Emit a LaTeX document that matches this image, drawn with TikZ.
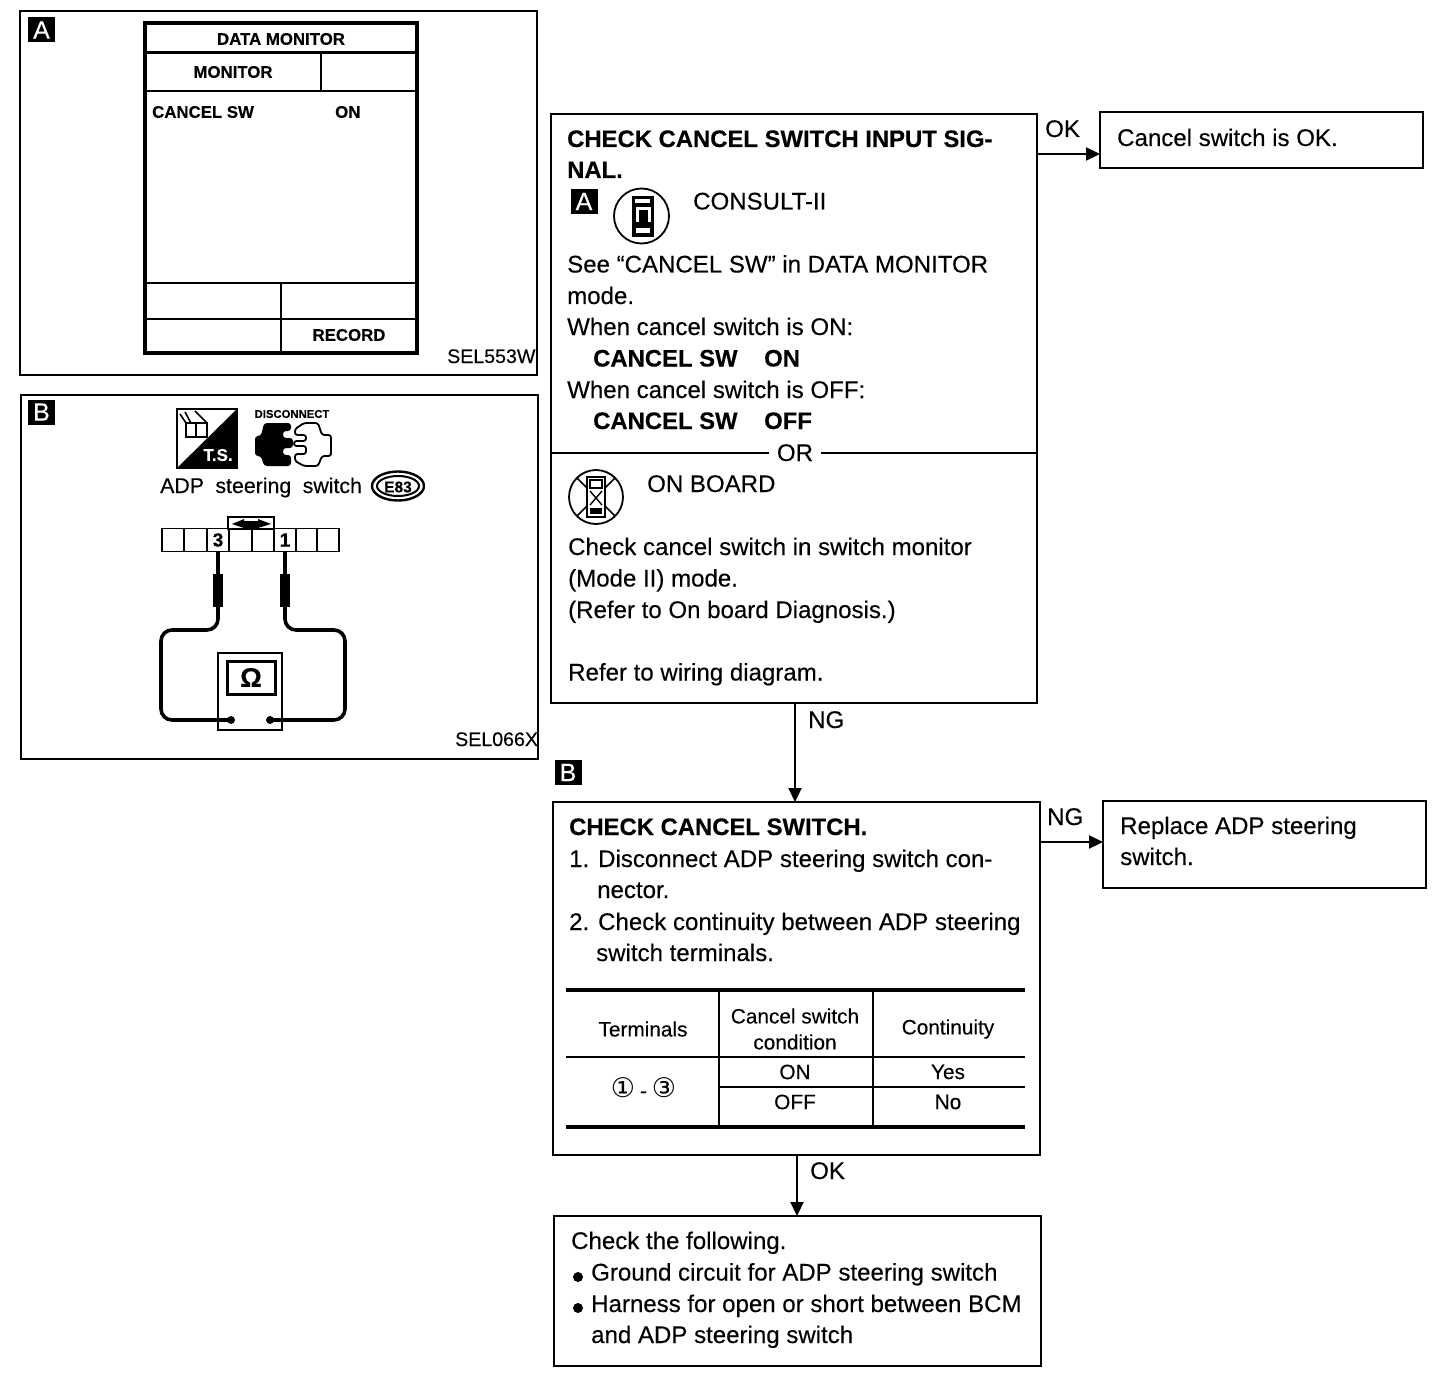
\documentclass[tikz,border=0pt]{standalone}
\usepackage{fontspec}
\setmainfont{Liberation Sans}[UprightFeatures={FakeBold=0.25},BoldFeatures={FakeBold=0.3}]
\newfontfamily\symfont{DejaVu Sans}
\usetikzlibrary{arrows.meta,calc}
\tikzset{
  boxn/.style={draw=black,line width=2.4pt,anchor=north west,inner sep=0pt,outer sep=0pt,rectangle},
  tx/.style={anchor=base west,inner sep=0pt,text=black,font=\fontsize{24.05}{28}\selectfont},
  bf/.style={tx,font=\fontsize{23.85}{28}\selectfont\bfseries},
  cen/.style={anchor=center,inner sep=0pt,text=black,font=\fontsize{20.8}{24}\selectfont},
  scr/.style={anchor=center,inner sep=0pt,text=black,font=\fontsize{16.8}{20}\selectfont\bfseries},
  code/.style={anchor=base west,inner sep=0pt,text=black,font=\fontsize{19.6}{22}\selectfont},
  tag/.style={fill=black,text=white,inner sep=0pt,outer sep=0pt,anchor=center,minimum width=27pt,minimum height=25pt,font=\fontsize{25}{28}\selectfont},
  arr/.style={line width=2.2pt,-{Triangle[length=14pt,width=13pt]}},
  thin line/.style={line width=2.2pt},
  thick line/.style={line width=4.4pt},
  wire/.style={line width=3.6pt,rounded corners=11pt},
}
\begin{document}
\begin{tikzpicture}[x=1pt,y=-1pt]
\useasboundingbox (0,0) rectangle (1456,1388);
% ---------- panel A
\node[boxn,minimum width=517pt,minimum height=364pt] (panelA) at (20,11) {};
\node[tag] (tagA) at (41.5,30) {A};
\node[boxn,line width=3.4pt,minimum width=272pt,minimum height=330pt] (screen) at (145,23) {};
\draw[line width=3pt] (145,53) -- (417,53);
\draw[thin line] (145,91) -- (417,91);
\draw[thin line] (321,53) -- (321,91);
\draw[line width=2.4pt] (145,283) -- (417,283);
\draw[line width=2.4pt] (145,319) -- (417,319);
\draw[line width=2.4pt] (281,283) -- (281,353);
\node[scr] (dm) at (281,39) {DATA MONITOR};
\node[scr] (mon) at (233,72) {MONITOR};
\node[scr,anchor=west] (csw) at (152,112) {CANCEL SW};
\node[scr,anchor=west] (con) at (335,112) {ON};
\node[scr] (rec) at (349,335) {RECORD};
\node[code] (selA) at (447,363) {SEL553W};
% ---------- panel B
\node[boxn,minimum width=517pt,minimum height=364pt] (panelB) at (21,395) {};
\node[tag] (tagB) at (41.5,412) {B};
% T.S. icon
\draw[fill=white,line width=2pt] (177,409) rectangle (237,468);
\fill[black] (237,409) -- (237,468) -- (177,468) -- cycle;
\node[anchor=center,inner sep=0pt,text=white,font=\fontsize{17}{18}\selectfont\bfseries] (ts) at (218,455) {T.S.};
\draw[line width=1.6pt] (186,423) rectangle (207,437);
\draw[line width=1.6pt] (196,423) -- (196,437);
\draw[line width=1.6pt] (186,423) -- (180,414);
\draw[line width=1.6pt] (191,423) -- (185,412);
\draw[line width=1.6pt] (207,423) -- (195,411);
% disconnect icon
\node[anchor=center,inner sep=0pt,text=black,font=\fontsize{11.3}{12}\selectfont\bfseries] (disc) at (292,414) {DISCONNECT};
\fill[black,rounded corners=3pt] (264,423) -- (291,423) -- (291,431) -- (283,431) -- (283,438) -- (293,438) -- (293,448) -- (283,448) -- (283,455) -- (291,455) -- (291,466) -- (264,466) -- (261,456) -- (255,456) -- (255,436) -- (261,436) -- cycle;
\draw[line width=1.8pt,rounded corners=2.5pt,fill=white] (295,429) -- (304,423) -- (318,423) -- (322,435) -- (331,435) -- (331,456) -- (322,456) -- (318,466) -- (304,466) -- (295,461) -- (295,454) -- (306,454) -- (306,446) -- (294,446) -- (294,441) -- (306,441) -- (306,435) -- (295,435) -- cycle;
\node[tx,font=\fontsize{21.3}{24}\selectfont] (adp) at (160,493) {\spaceskip=11.5pt ADP steering switch};
\draw[line width=2.4pt] (398,486) ellipse [x radius=26,y radius=14.5];
\draw[line width=2pt] (398,486) ellipse [x radius=21,y radius=10];
\node[anchor=center,inner sep=0pt,font=\fontsize{15.5}{16}\selectfont\bfseries] (e83) at (398,487) {E83};
% connector
\draw[thin line,fill=white] (228,517) rectangle (274,529);
\fill[black] (232,524) -- (244,519) -- (244,521) -- (258,521) -- (258,519) -- (271,524) -- (258,528) -- (244,528) -- cycle;
\node[draw=black,line width=1.8pt,inner sep=0pt,outer sep=0pt,anchor=north west,minimum width=177pt,minimum height=23pt] (conn) at (162,528.5) {};
\foreach \xx in {184,207,229,252,274,296,317}{\draw[line width=1.4pt] (\xx,528.5) -- (\xx,551.5);}
\node[anchor=center,inner sep=0pt,font=\fontsize{19}{20}\selectfont\bfseries] (t3) at (218,540) {3};
\node[anchor=center,inner sep=0pt,font=\fontsize{19}{20}\selectfont\bfseries] (t1) at (285,540) {1};
% meter
\node[boxn,line width=2.6pt,minimum width=64pt,minimum height=77pt] (meter) at (218,653) {};
\node[draw=black,line width=3pt,anchor=north west,inner sep=0pt,outer sep=0pt,minimum width=48pt,minimum height=33pt,font=\fontsize{27}{28}\selectfont\bfseries] (disp) at (227,661) {Ω};
\coordinate (pl) at (231,720);
\coordinate (pr) at (270,720);
\fill (pl) circle (4pt);
\fill (pr) circle (4pt);
\draw[line width=3.4pt] (218,551) -- (218,574);
\draw[line width=3.4pt] (285,551) -- (285,574);
\draw[line width=10pt] (218,574) -- (218,607);
\draw[line width=10pt] (285,574) -- (285,607);
\draw[wire] (218,607) -- (218,630) -- (161,630) -- (161,720) -- (pl);
\draw[wire] (285,607) -- (285,630) -- (345,630) -- (345,720) -- (pr);
% ---------- first step
\node[boxn,minimum width=486pt,minimum height=589pt] (step1) at (551,114) {};
\node[bf] (a1) at (567,147) {CHECK CANCEL SWITCH INPUT SIG-};
\node[bf] (a2) at (567,178) {NAL.};
\node[tag] (tagA2) at (584,201.5) {A};
\node[draw=black,line width=1.8pt,circle,minimum size=55pt,inner sep=0pt] (consulticon) at (641.5,216) {};
\fill[black] (632,196) rectangle (654,237);
\fill[white] (635,199) rectangle (650,203);
\fill[white] (636,207) rectangle (651,222);
\fill[black] (639,210) rectangle (648,222);
\fill[white] (636,228) rectangle (650,233);
\node[tx] (a3) at (693,209.5) {CONSULT-II};
\node[tx] (a4) at (567,272.5) {See “CANCEL SW” in DATA MONITOR};
\node[tx] (a5) at (567,304) {mode.};
\node[tx] (a6) at (567,335) {When cancel switch is ON:};
\node[bf] (a7) at (593,366.5) {CANCEL SW};
\node[bf] (a8) at (764,366.5) {ON};
\node[tx] (a9) at (567,398) {When cancel switch is OFF:};
\node[bf] (a10) at (593,429) {CANCEL SW};
\node[bf] (a11) at (764,429) {OFF};
\node[tx,anchor=base] (orn) at (795,461) {OR};
\draw[thin line] (step1.west |- orn.center) -- ($(orn.west)+(-8,0)$);
\draw[thin line] ($(orn.east)+(8,0)$) -- (step1.east |- orn.center);
\node[draw=black,line width=1.8pt,circle,minimum size=54pt,inner sep=0pt] (boardicon) at (596,497) {};
\draw[line width=1.6pt] (577,478) -- (615,516);
\draw[line width=1.6pt] (615,478) -- (577,516);
\draw[line width=1.8pt,fill=white] (587,477) rectangle (605,517);
\draw[line width=1.6pt] (590,480) rectangle (602,488);
\draw[line width=1.4pt] (590,491) -- (602,505);
\draw[line width=1.4pt] (602,491) -- (590,505);
\fill[black] (590,508) rectangle (602,514);
\node[tx] (b1) at (647,492) {ON BOARD};
\node[tx] (b2) at (568,555) {Check cancel switch in switch monitor};
\node[tx] (b3) at (568,586.5) {(Mode II) mode.};
\node[tx] (b4) at (568,618) {(Refer to On board Diagnosis.)};
\node[tx] (b5) at (568,680.5) {Refer to wiring diagram.};
% ---------- OK result
\node[boxn,minimum width=323pt,minimum height=56pt] (okbox) at (1100,112) {};
\node[tx] (oktext) at (1117,146) {Cancel switch is OK.};
\node[tx] (oklab) at (1045,137) {OK};
\coordinate (okstart) at (1037,154);
\draw[arr] (okstart) -- (okstart -| okbox.west);
% ---------- second step
\node[tag] (tagB2) at (568,772.5) {B};
\node[boxn,minimum width=487pt,minimum height=353pt] (step2) at (553,802) {};
\coordinate (ngstart) at (795,703);
\draw[arr] (ngstart) -- (ngstart |- step2.north);
\node[tx] (nglab) at (808,728) {NG};
\node[bf] (c1) at (569,835) {CHECK CANCEL SWITCH.};
\node[tx] (c2) at (569,867) {1. Disconnect ADP steering switch con-};
\node[tx] (c3) at (597,898) {nector.};
\node[tx] (c4) at (569,930) {2. Check continuity between ADP steering};
\node[tx] (c5) at (596,961) {switch terminals.};
% table
\draw[thick line] (566,990) -- (1025,990);
\draw[thick line] (566,1127) -- (1025,1127);
\draw[thin line] (566,1057) -- (1025,1057);
\draw[thin line] (719,1087) -- (1025,1087);
\draw[thin line] (719,990) -- (719,1127);
\draw[thin line] (873,990) -- (873,1127);
\node[cen] (h1) at (643,1029) {Terminals};
\node[cen] (h2a) at (795,1016) {Cancel switch};
\node[cen] (h2b) at (795,1042) {condition};
\node[cen] (h3) at (948,1029) {Continuity};
\node[cen] (r1a) at (795,1072) {ON};
\node[cen] (r1b) at (948,1072) {Yes};
\node[cen] (r2a) at (795,1102) {OFF};
\node[cen] (r2b) at (948,1102) {No};
\node[cen] (term) at (643.5,1088) {{\symfont\fontsize{27}{28}\selectfont ①}\hspace{5pt}-\hspace{5pt}{\symfont\fontsize{27}{28}\selectfont ③}};
% ---------- NG result
\node[boxn,minimum width=323pt,minimum height=87pt] (ngbox) at (1103,801) {};
\node[tx] (ng1) at (1120,834) {Replace ADP steering};
\node[tx] (ng2) at (1120,865) {switch.};
\node[tx] (ng3) at (1047,825) {NG};
\coordinate (ng2start) at (1040,842);
\draw[arr] (ng2start) -- (ng2start -| ngbox.west);
% ---------- final box
\node[boxn,minimum width=487pt,minimum height=150pt] (finalbox) at (554,1216) {};
\coordinate (okstart2) at (797,1155);
\draw[arr] (okstart2) -- (okstart2 |- finalbox.north);
\node[tx] (oklab2) at (810,1179) {OK};
\node[tx] (f1) at (571,1249) {Check the following.};
\fill (578,1277) circle (5pt);
\node[tx] (f2) at (591,1280.5) {Ground circuit for ADP steering switch};
\fill (578,1308) circle (5pt);
\node[tx] (f3) at (591,1312) {Harness for open or short between BCM};
\node[tx] (f4) at (591,1343) {and ADP steering switch};
\node[code] (selB) at (455,746) {SEL066X};
\end{tikzpicture}
\end{document}
